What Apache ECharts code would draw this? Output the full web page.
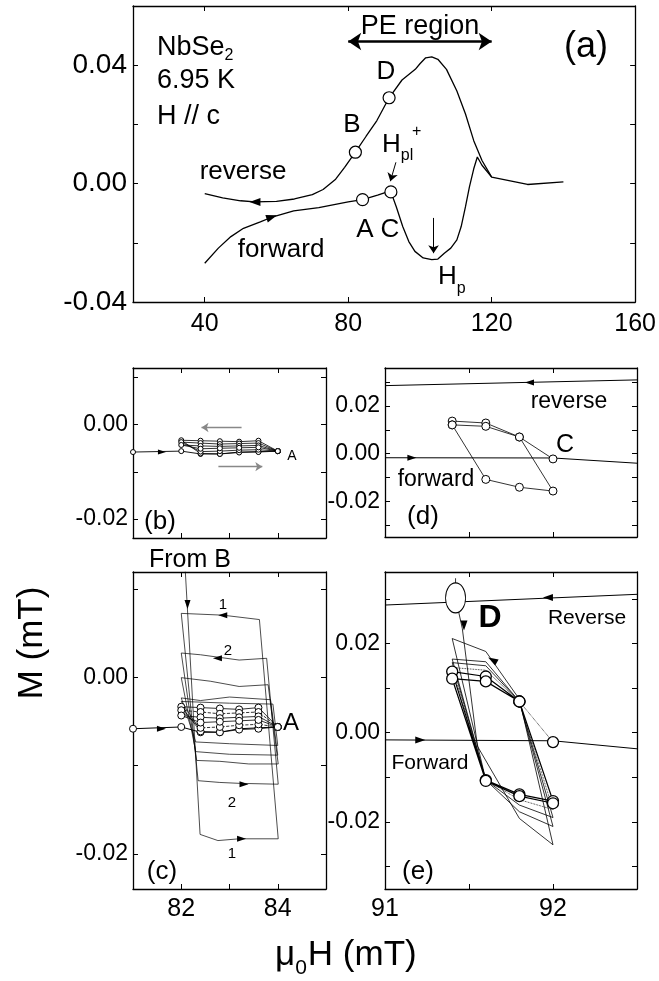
<!DOCTYPE html>
<html>
<head>
<meta charset="utf-8">
<script src="https://cdn.jsdelivr.net/npm/echarts@6/dist/echarts.min.js"></script>
<style>
  html, body { margin: 0; padding: 0; background: #fff; }
  #chart { width: 659px; height: 981px; }
</style>
</head>
<body>
<div id="chart"></div>
<script>
// ---- (a) full M(H) curve ----
const aFwdH = [40, 43.8, 47.3, 50.8, 55.5, 59, 64.8, 71.8, 80, 84, 88.2, 90.5, 91.9, 93.4, 95.2, 96.9, 98.6, 100.9, 103.3, 105, 106.8, 108.6, 110.3, 111.5, 112.7, 113.8, 115, 116, 117.3, 120, 130, 140];
const aFwdM = [-0.0269, -0.0218, -0.0179, -0.0151, -0.0129, -0.0112, -0.0092, -0.0081, -0.0062, -0.0054, -0.0039, -0.0030, -0.0028, -0.0078, -0.0145, -0.0196, -0.0229, -0.0251, -0.0257, -0.0255, -0.0235, -0.0218, -0.0190, -0.0145, -0.0078, -0.0011, 0.0050, 0.0090, 0.0062, 0.0022, -0.0003, 0.0006];
const aRevH = [40, 45, 50, 54, 60, 65, 70, 73, 76.5, 79, 82, 85, 88, 91.4, 95, 98.7, 100, 101.6, 103.3, 105, 107.4, 110.3, 112.7, 115, 117.3, 120];
const aRevM = [-0.0034, -0.0048, -0.0058, -0.0062, -0.0060, -0.0052, -0.0037, -0.0020, 0.0015, 0.0055, 0.0106, 0.0160, 0.0213, 0.0290, 0.0350, 0.0386, 0.0405, 0.0425, 0.0428, 0.0420, 0.0386, 0.0313, 0.0235, 0.0145, 0.0078, 0.0022];
const aPointH = [84, 82, 91.9, 91.4];      // A, B, C, D
const aPointM = [-0.0054, 0.0106, -0.0028, 0.029];
const aArrowH = [54, 58.7];
const aArrowM = [-0.0062, -0.0113];
const aArrowRot = [90, -72];

// ---- (b),(c) minor loops near A ----
const bcFwdH = [81.0, 82.0, 82.4, 82.8, 83.2, 83.6, 84.0];
const bcFwdM = [-0.0058, -0.0056, -0.0062, -0.0062, -0.0058, -0.0057, -0.0056];
const bcLoopH = [84.0, 83.6, 83.2, 82.8, 82.4, 82.0, 82.4, 82.8, 83.2, 83.6, 84.0];
const bcLoop1M = [-0.0056, -0.0034, -0.0036, -0.0035, -0.0034, -0.0033, -0.0061, -0.0062, -0.0059, -0.0058, -0.0056];
const bcLoop2M = [-0.0056, -0.0039, -0.0040, -0.0041, -0.0039, -0.0037, -0.0057, -0.0056, -0.0054, -0.0053, -0.0056];
const bcLoop3M = [-0.0056, -0.0044, -0.0045, -0.0046, -0.0045, -0.0043, -0.0051, -0.0050, -0.0049, -0.0048, -0.0056];
// big loops from B (panel c)
const cBig1H = [82.08, 82.39, 82.76, 83.2, 84.01, 83.62, 82.86, 82.0];
const cBig1M = [0.0125, -0.0178, -0.0185, -0.0183, -0.0183, 0.0066, 0.0071, 0.0073];
const cBig2H = [82.0, 82.35, 82.8, 83.2, 84.01, 83.77, 83.2, 82.8, 82.4, 82.0];
const cBig2M = [0.0073, -0.0117, -0.0119, -0.0120, -0.0121, 0.0022, 0.0020, 0.0023, 0.0026, 0.0028];
const cBig3H = [82.0, 82.32, 82.8, 83.4, 84.01, 83.80, 83.2, 82.6, 82.0];
const cBig3M = [0.0028, -0.0094, -0.0095, -0.0098, -0.0098, -0.0008, -0.0010, -0.0004, 0.0000];
const cBig4H = [82.0, 82.3, 83.0, 84.0, 83.85, 83.0, 82.4, 82.0];
const cBig4M = [0.0000, -0.0084, -0.0087, -0.0088, -0.0025, -0.0022, -0.0026, -0.0023];
const cBig5H = [82.0, 82.3, 83.0, 84.0, 83.9, 83.0, 82.0, 82.4];
const cBig5M = [-0.0023, -0.0073, -0.0075, -0.0077, -0.0030, -0.0029, -0.0027, -0.0060];
const bArrowH = [81.6];
const bArrowM = [-0.0058];
const cArrowH = [81.59, 82.13, 82.86, 82.75, 83.3, 83.25];
const cArrowM = [-0.0058, 0.0083, 0.0071, 0.0022, -0.0121, -0.0183];
const cArrowRot = [-90, 180, 90, 90, -90, -90];

// ---- (d),(e) minor loops near C / D ----
const deRevH = [91.0, 92.5];
const deRevM = [0.0286, 0.0310];
const deFwdH = [91.0, 92.0, 92.5];
const dFwdM = [-0.0017, -0.0018, -0.0040];
const eFwdM = [-0.0016, -0.0018, -0.0036];
const dLoopH = [92.0, 91.8, 91.6, 91.4, 91.4, 91.6, 91.8, 92.0, 91.8, 91.6, 91.4];
const dLoopM = [-0.0022, 0.0070, 0.0129, 0.0137, 0.0121, -0.0108, -0.0141, -0.0157, 0.0070, 0.0115, 0.0121];
const dArrowH = [91.86, 91.16];
const dArrowM = [0.0299, -0.0017];
const dArrowRot = [90, -90];
const eDotH = [92.0, 91.8];
const eDotM = [-0.0021, 0.0070];
const eCircH = [91.8, 91.6, 91.4, 91.6, 91.8, 92.0, 91.8, 91.6, 91.4, 91.6, 91.8, 92.0];
const eCircM = [0.0070, 0.0126, 0.0137, -0.0106, -0.0138, -0.0153, 0.0070, 0.0115, 0.0121, -0.0108, -0.0142, -0.0158];
const eOuterH = [91.42, 91.42, 91.46, 91.55, 91.8, 92.0, 91.8, 91.6, 91.4, 91.6];
const eOuterM = [0.0346, 0.0302, 0.0234, -0.0030, -0.0192, -0.0251, 0.0075, 0.0182, 0.0211, -0.0106];
const eThinH = [91.6, 91.8, 92.0, 91.8, 91.6, 91.4, 91.6];
const eThin1M = [-0.0106, -0.0177, -0.0210, 0.0070, 0.0159, 0.0165, -0.0106];
const eThin2M = [-0.0106, -0.0162, -0.0190, 0.0070, 0.0150, 0.0157, -0.0106];
const eThin3M = [-0.0106, -0.0150, -0.0172, 0.0070, 0.0140, 0.0146, -0.0106];
const eStartH = [91.42];
const eStartM = [0.0302];
const eArrowH = [91.97, 91.21, 91.47, 91.64];
const eArrowM = [0.0303, -0.0016, 0.0240, 0.0163];
const eArrowRot = [90, -90, 180, 60];

const FONT = '"Liberation Sans", Arial, Helvetica, sans-serif';
const chart = echarts.init(document.getElementById('chart'));

function pts(xs, ys) { return xs.map((x, i) => [x, ys[i]]); }
const f2 = v => v.toFixed(2);
const f0 = v => String(Math.round(v));

function axes(kind, gi, min, max, ticks, labels, fmt, fs, margin) {
  const base = {
    type: 'value', gridIndex: gi, min: min, max: max,
    axisLine: { show: true, onZero: false, lineStyle: { color: '#000', width: 1.3 } },
    axisTick: { show: true, inside: true, length: 5, customValues: ticks, lineStyle: { color: '#000', width: 1 } },
    splitLine: { show: false }
  };
  const main = Object.assign({}, base, {
    position: kind === 'x' ? 'bottom' : 'left',
    axisLabel: { show: labels.length > 0, customValues: labels, formatter: fmt, fontSize: fs, color: '#000',
      fontFamily: FONT, margin: margin, showMinLabel: true, showMaxLabel: true }
  });
  const mirror = Object.assign({}, base, { position: kind === 'x' ? 'top' : 'right', axisLabel: { show: false } });
  return [main, mirror];
}

function line(gi, xs, ys, o) {
  return Object.assign({
    type: 'line', xAxisIndex: 2 * gi, yAxisIndex: 2 * gi, data: pts(xs, ys),
    symbol: 'none', lineStyle: { color: '#000', width: 0.8 }, silent: true, z: 2
  }, o || {});
}
function circles(size, bw) {
  return { symbol: 'circle', symbolSize: size, showSymbol: true,
    itemStyle: { color: '#fff', borderColor: '#000', borderWidth: bw || 1, opacity: 1 } };
}
function arrows(gi, xs, ys, rots, size) {
  return { type: 'scatter', xAxisIndex: 2 * gi, yAxisIndex: 2 * gi, silent: true, z: 6,
    symbol: 'triangle', symbolSize: size || [7, 10], itemStyle: { color: '#000', opacity: 1 },
    data: xs.map((x, i) => ({ value: [x, ys[i]], symbolRotate: rots[i] })) };
}
function mline(pairs, sym, width, color, size) {
  return { silent: true, animation: false, symbol: sym, symbolSize: size || 10, label: { show: false },
    lineStyle: { color: color || '#000', width: width || 1, type: 'solid' },
    emphasis: { disabled: true },
    data: pairs.map(p => [{ coord: p[0] }, { coord: p[1] }]) };
}

// text helpers
const ctx = document.createElement('canvas').getContext('2d');
function tw(s, size, weight) { ctx.font = (weight || 'normal') + ' ' + size + 'px ' + FONT; return ctx.measureText(s).width; }
const g = [];
function txt(s, x, y, size, align, extra) {
  g.push(Object.assign({ type: 'text', x: x, y: y, silent: true, z: 100,
    style: { text: s, fontSize: size, fontFamily: FONT, fill: '#000',
      align: align || 'center', verticalAlign: 'middle', textAlign: align || 'center', textVerticalAlign: 'middle' } }, extra || {}));
}

// panel (a) texts
txt('NbSe', 157, 48, 27, 'left'); txt('2', 157 + tw('NbSe', 27), 56, 16, 'left');
txt('6.95 K', 157, 81, 27, 'left');
txt('H // c', 157, 117, 27, 'left');
txt('PE region', 420, 27, 27);
txt('(a)', 586, 47, 36);
txt('D', 386, 72, 26);
txt('B', 352, 125, 26);
txt('H', 382, 145, 26, 'left'); txt('pl', 382 + tw('H', 26), 156, 16, 'left'); txt('+', 412, 132, 16, 'left');
txt('A', 365, 230, 26);
txt('C', 390, 230, 26);
txt('reverse', 243, 172, 26);
txt('forward', 281, 250, 26);
txt('H', 438, 277, 26, 'left'); txt('p', 438 + tw('H', 26), 289, 16, 'left');
// panel (b)
txt('(b)', 160, 522, 26);
txt('A', 292, 456, 14);
// panel (c)
txt('From B', 190, 560, 25);
txt('A', 291, 723, 24);
txt('1', 223, 605, 15); txt('2', 228, 651, 15); txt('2', 232, 803, 15); txt('1', 232, 854, 15);
txt('(c)', 162, 872, 26);
// panel (d)
txt('reverse', 569, 402, 23);
txt('C', 565, 445, 25);
txt('forward', 436, 480, 23);
txt('(d)', 423, 517, 26);
// panel (e)
txt('D', 490, 618, 32, 'center'); g[g.length - 1].style.fontWeight = 'bold';
txt('Reverse', 587, 618, 21);
txt('Forward', 430, 763, 21);
txt('(e)', 418, 872, 26);
// axis titles
txt('M (mT)', 32, 643, 35, 'center', { rotation: Math.PI / 2 });
const muW = tw('\u03bc', 35);
txt('\u03bc', 275, 955, 35, 'left');
txt('0', 275 + muW, 968, 21, 'left');
txt('H (mT)', 275 + muW + tw('0', 21) + 1, 955, 35, 'left');

const xAxis = [].concat(
  axes('x', 0, 20, 160, [40, 80, 120, 160], [40, 80, 120, 160], f0, 25, 10),
  axes('x', 1, 81, 85, [82, 83, 84], [], f0, 25, 8),
  axes('x', 2, 81, 85, [82, 83, 84], [82, 84], f0, 25, 8),
  axes('x', 3, 91, 92.5, [91.5, 92], [], f0, 25, 8),
  axes('x', 4, 91, 92.5, [91.5, 92], [91, 92], f0, 25, 8)
);
const yAxis = [].concat(
  axes('y', 0, -0.04, 0.06, [-0.02, 0, 0.02, 0.04], [-0.04, 0, 0.04], f2, 28, 6),
  axes('y', 1, -0.024, 0.012, [-0.02, -0.01, 0, 0.01], [-0.02, 0], f2, 23, 5),
  axes('y', 2, -0.024, 0.012, [-0.02, -0.01, 0, 0.01], [-0.02, 0], f2, 23, 5),
  axes('y', 3, -0.035, 0.036, [-0.03, -0.02, -0.01, 0, 0.01, 0.02, 0.03], [-0.02, 0, 0.02], f2, 23, 5),
  axes('y', 4, -0.035, 0.036, [-0.03, -0.02, -0.01, 0, 0.01, 0.02, 0.03], [-0.02, 0, 0.02], f2, 23, 5)
);

const series = [
  // (a)
  line(0, aFwdH, aFwdM, { lineStyle: { color: '#000', width: 1.3 },
    markLine: mline([[[93.3, 0.0072], [91.75, 0.0008]], [[103.8, -0.0116], [103.8, -0.0235]]], ['none', 'arrow'], 1, '#000', 8) }),
  line(0, aRevH, aRevM, { lineStyle: { color: '#000', width: 1.3 },
    markLine: mline([[[80, 0.048], [120, 0.048]]], ['arrow', 'arrow'], 2.6, '#000', 13) }),
  { type: 'scatter', xAxisIndex: 0, yAxisIndex: 0, silent: true, z: 5, symbol: 'circle', symbolSize: 12,
    itemStyle: { color: '#fff', borderColor: '#000', borderWidth: 1.2, opacity: 1 }, data: pts(aPointH, aPointM) },
  arrows(0, aArrowH, aArrowM, aArrowRot, [8, 11]),
  // (b)
  line(1, bcFwdH, bcFwdM, Object.assign(circles(5), { lineStyle: { color: '#000', width: 0.9 },
    markLine: mline([[[83.25, -0.0006], [82.42, -0.0006]], [[82.77, -0.0089], [83.68, -0.0089]]], ['none', 'arrow'], 1.3, '#888', 7) })),
  line(1, bcLoopH, bcLoop1M, circles(5)),
  line(1, bcLoopH, bcLoop2M, circles(5)),
  line(1, bcLoopH, bcLoop3M, circles(5)),
  arrows(1, bArrowH, bArrowM, [-90], [5, 8]),
  // (c)
  line(2, cBig1H, cBig1M, { lineStyle: { color: '#000', width: 0.7 } }),
  line(2, cBig2H, cBig2M, { lineStyle: { color: '#000', width: 0.7 } }),
  line(2, cBig3H, cBig3M, { lineStyle: { color: '#000', width: 0.7 } }),
  line(2, cBig4H, cBig4M, { lineStyle: { color: '#000', width: 0.7 } }),
  line(2, cBig5H, cBig5M, { lineStyle: { color: '#000', width: 0.7 } }),
  line(2, bcFwdH, bcFwdM, Object.assign(circles(7), { lineStyle: { color: '#000', width: 1 } })),
  line(2, bcLoopH, bcLoop1M, circles(7)),
  line(2, bcLoopH, bcLoop2M, Object.assign(circles(7), { lineStyle: { color: '#000', width: 0.8, type: 'dashed' } })),
  line(2, bcLoopH, bcLoop3M, circles(7)),
  arrows(2, cArrowH, cArrowM, cArrowRot, [6, 9]),
  // (d)
  line(3, deRevH, deRevM, { lineStyle: { color: '#000', width: 1 } }),
  line(3, deFwdH, dFwdM, { lineStyle: { color: '#000', width: 1 } }),
  line(3, dLoopH, dLoopM, circles(8)),
  arrows(3, dArrowH, dArrowM, dArrowRot, [6, 9]),
  // (e)
  line(4, deRevH, deRevM, { lineStyle: { color: '#000', width: 1 } }),
  line(4, deFwdH, eFwdM, { lineStyle: { color: '#000', width: 1 } }),
  line(4, eOuterH, eOuterM, { lineStyle: { color: '#000', width: 0.8 } }),
  line(4, eThinH, eThin1M, { lineStyle: { color: '#000', width: 0.8 } }),
  line(4, eThinH, eThin2M, { lineStyle: { color: '#000', width: 0.8 } }),
  line(4, eThinH, eThin3M, { lineStyle: { color: '#000', width: 0.8, type: 'dotted' } }),
  line(4, eDotH, eDotM, Object.assign(circles(11, 1.3), { lineStyle: { color: '#000', width: 0.8, type: 'dotted' } })),
  line(4, eCircH, eCircM, Object.assign(circles(11, 1.3), { lineStyle: { color: '#000', width: 1.2 } })),
  { type: 'scatter', xAxisIndex: 8, yAxisIndex: 8, silent: true, z: 5, symbol: 'circle', symbolSize: [20, 30],
    itemStyle: { color: '#fff', borderColor: '#000', borderWidth: 1, opacity: 1 }, data: pts(eStartH, eStartM) },
  arrows(4, eArrowH, eArrowM, eArrowRot, [7, 10])
];

chart.setOption({
  animation: false,
  backgroundColor: '#fff',
  grid: [
    { left: 133, top: 6, width: 504, height: 296 },
    { left: 133, top: 368, width: 193, height: 170 },
    { left: 133, top: 572, width: 193, height: 317 },
    { left: 385, top: 368, width: 252, height: 169 },
    { left: 385, top: 572, width: 252, height: 317 }
  ],
  xAxis: xAxis,
  yAxis: yAxis,
  series: series,
  graphic: g
});
</script>
</body>
</html>
